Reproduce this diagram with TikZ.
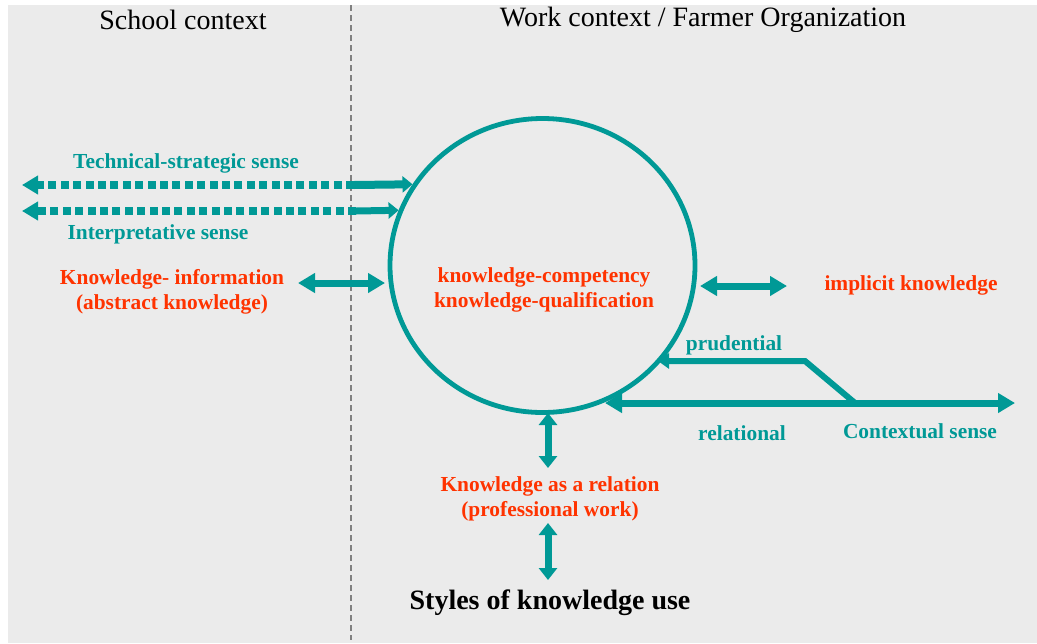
\documentclass[tikz,border=0pt]{standalone}
\usepackage{fontspec}
\setmainfont{Liberation Serif}
\usetikzlibrary{arrows.meta,shapes.geometric}
\definecolor{senseteal}{RGB}{0,153,150}
\definecolor{knowred}{RGB}{255,51,0}
\definecolor{panelgray}{RGB}{235,235,235}
\tikzset{sense/.style={text=senseteal,font=\bfseries\fontsize{10.7}{12.5}\selectfont,align=center},
         know/.style={text=knowred,font=\bfseries\fontsize{10.7}{12.5}\selectfont,align=center},
         context/.style={font=\fontsize{14}{16}\selectfont},
         line/.style={draw=senseteal,line width=3.5pt},
         dotline/.style={draw=senseteal,line width=4pt,dash pattern=on 4pt off 2.2pt}
}

\begin{document}
\begin{tikzpicture}[x=0.5pt,y=-0.5pt,>={Triangle[width=9.5pt,length=8.5pt]}]
  \useasboundingbox (0,0) rectangle (1037,643);
  \fill[panelgray] (8,5) rectangle (1037,643);
  \draw[gray,line width=0.75pt,dash pattern=on 3pt off 2pt] (351,5) -- (351,640);

  \node[context] (school) at (183,20) {School context};
  \node[context] (work) at (703,20) {Work context / Farmer Organization};

  \node[draw=senseteal,line width=2.4pt,ellipse,minimum width=152.5pt,minimum height=147pt] (comp) at (542.5,265.5) {};
  \node[know] (kcomp) at (544,289.5) {knowledge-competency\\knowledge-qualification};

  \node[sense] (tech) at (186,163) {Technical-strategic sense};
  \node[sense] (interp) at (158,234) {Interpretative sense};
  \node[know] (kinfo) at (172,291.5) {Knowledge- information\\(abstract knowledge)};
  \node[know] (implicit) at (911,285) {implicit knowledge};
  \node[sense] (prud) at (734,345) {prudential};
  \node[sense] (rel) at (742,433) {relational};
  \node[sense] (ctx) at (920,431) {Contextual sense};
  \node[know] (krel) at (550,499) {Knowledge as a relation\\(professional work)};
  \node[font=\bfseries\fontsize{14}{16}\selectfont] (styles) at (550,603) {Styles of knowledge use};

  \coordinate (techL) at (22,185);
  \coordinate (techM) at (354,185);
  \coordinate (interpL) at (22,211);
  \coordinate (interpM) at (356,211);
  \coordinate (infoL) at (298,283);
  \coordinate (infoR) at (385,283);
  \coordinate (implL) at (700,286);
  \coordinate (implR) at (787,286);
  \coordinate (ctxL) at (605,403);
  \coordinate (ctxR) at (1015,403);
  \coordinate (fork) at (855,403);
  \coordinate (bend) at (805,361);
  \coordinate (prudL) at (658,361);
  \coordinate (relT) at (548,413);
  \coordinate (relB) at (548,468);
  \coordinate (useT) at (548,523);
  \coordinate (useB) at (548,580);

  \draw[dotline,-{Triangle[width=9pt,length=8pt]}] (techM) -- (techL);
  \draw[dotline,-{Triangle[width=9pt,length=8pt]}] (interpM) -- (interpL);
  \draw[line,line width=4pt,-{Triangle[width=8pt,length=5pt]}] (techM) -- (comp.148);
  \draw[line,-{Triangle[width=8pt,length=5pt]}] (interpM) -- (comp.159);
  \draw[line,<->] (infoL) -- (infoR);
  \draw[line,<->] (implL) -- (implR);
  \draw[line,<->] (ctxL) -- (ctxR);
  \draw[line,line width=3pt,-{Triangle[width=7.5pt,length=5.5pt]}] (fork) -- (bend) -- (prudL);
  \draw[line,{Triangle[width=9pt,length=6pt]}-{Triangle[width=9pt,length=6pt]}] (relT) -- (relB);
  \draw[line,{Triangle[width=9pt,length=6pt]}-{Triangle[width=9pt,length=6pt]}] (useT) -- (useB);
\end{tikzpicture}
\end{document}
